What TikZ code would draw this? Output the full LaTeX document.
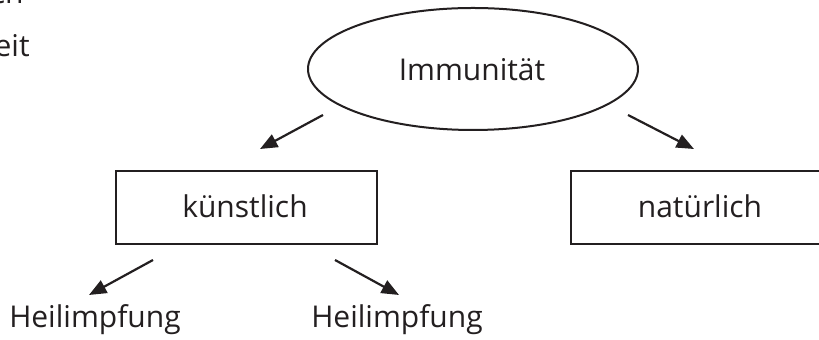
\documentclass[tikz,border=0pt]{standalone}
\usepackage{fontspec}
\setmainfont{Open Sans}
\usepackage{tikz}
\usetikzlibrary{shapes.geometric,arrows.meta}
\definecolor{ink}{RGB}{35,31,32}
\tikzset{
  lbl/.style={text=ink,font=\fontsize{15}{18}\selectfont,inner sep=0pt},
  oval/.style={ellipse,draw=ink,line width=1pt,minimum width=165pt,minimum height=61pt,inner sep=0pt},
  kasten/.style={rectangle,draw=ink,line width=1pt,minimum width=130.5pt,minimum height=36.5pt,inner sep=0pt},
  pfeil/.style={draw=ink,line width=1.1pt,-{Triangle[length=8.7pt,width=7pt]}}
}

\begin{document}
\begin{tikzpicture}[x=0.5pt,y=-0.5pt]
\useasboundingbox (0,0) rectangle (819,340);
\node[oval] (imm) at (473,69) {};
\node[lbl,anchor=base] (immt) at (472,81) {Immunität};
\node[kasten] (kuen) at (246.5,207.5) {};
\node[lbl,anchor=base] (kuent) at (245,218) {künstlich};
\node[kasten,minimum width=150pt,anchor=west] (nat) at (570,207.5) {};
\node[lbl,anchor=base] (natt) at (700,218) {natürlich};
\node[lbl,anchor=base] (heil1) at (95,328) {Heilimpfung};
\node[lbl,anchor=base] (heil2) at (397,328) {Heilimpfung};
\node[lbl,anchor=base east] (rest1) at (24,4) {ch};
\node[lbl,anchor=base east] (rest2) at (30,57) {eit};
\coordinate (p1) at (323,115); \coordinate (q1) at (260,149);
\coordinate (p2) at (628,115); \coordinate (q2) at (694,149);
\coordinate (p3) at (153,260); \coordinate (q3) at (89,295);
\coordinate (p4) at (335,260); \coordinate (q4) at (399,295);
\draw[pfeil] (p1) -- (q1);
\draw[pfeil] (p2) -- (q2);
\draw[pfeil] (p3) -- (q3);
\draw[pfeil] (p4) -- (q4);
\end{tikzpicture}
\end{document}
